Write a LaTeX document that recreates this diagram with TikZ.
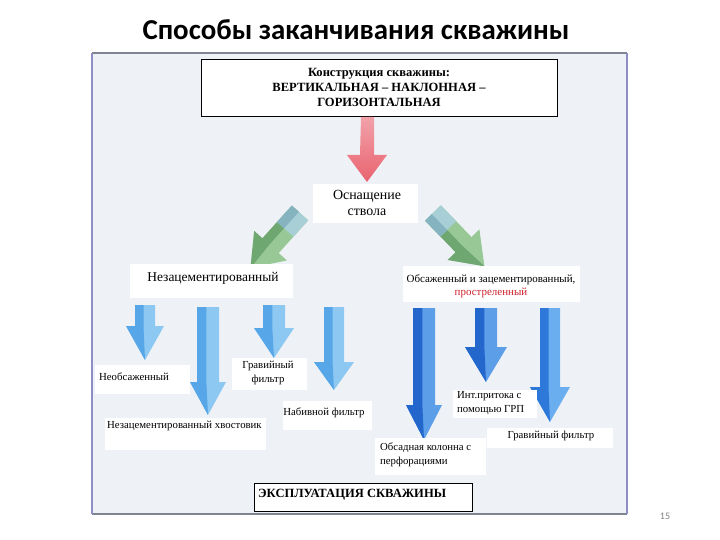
\documentclass[tikz,border=0pt]{standalone}
\usepackage{fontspec}
\setmainfont{Liberation Serif}
\newfontfamily\titlefont{Carlito}
\definecolor{panelbg}{HTML}{EEF2F7}
\definecolor{panelside}{HTML}{8E8EC4}
\definecolor{paneltop}{HTML}{7E8590}
\definecolor{redtop}{HTML}{F2A2AA}
\definecolor{redbot}{HTML}{E8636F}
\definecolor{grlight}{HTML}{98C896}
\definecolor{grdark}{HTML}{6FA771}
\definecolor{grtail}{HTML}{A9CFD6}
\definecolor{grtaildk}{HTML}{86B3C0}
\definecolor{lblight}{HTML}{8DC8F2}
\definecolor{lbdark}{HTML}{56A6E8}
\definecolor{dblight}{HTML}{5C9EE8}
\definecolor{dbdark}{HTML}{2367CC}
\definecolor{mblight}{HTML}{6AAEF0}
\definecolor{mbdark}{HTML}{2D78D8}
\definecolor{redtext}{HTML}{D0202A}
\newcommand{\VArr}[8]{%
  \fill[#7] (#1-#4,#2) -- (#1+#4,#2) -- (#1+#4,#6) -- (#1+#5,#6) -- (#1,#3) -- (#1-#5,#6) -- (#1-#4,#6) -- cycle;
  \fill[#8] (#1-#4,#2) -- (#1-0.15*#4,#2) -- (#1-0.15*#4,#6) -- (#1,#3) -- (#1-#5,#6) -- (#1-#4,#6) -- cycle;
}
\tikzset{
  lbl/.style={inner sep=0pt, font=\fontsize{10.8}{13.5}\selectfont},
  framebox/.style={draw=black, line width=0.8pt, fill=white, inner sep=0pt},
}
\begin{document}
\begin{tikzpicture}[x=1bp,y=-1bp]
\useasboundingbox (0,0) rectangle (720,540);
\fill[white] (0,0) rectangle (720,540);
% title
\node[font=\titlefont\bfseries\fontsize{29}{34}\selectfont] (title) at (356,30) {Способы заканчивания скважины};
% panel
\fill[panelbg] (92,53) rectangle (627,514);
\draw[paneltop, line width=1.5pt] (92,53) -- (627,53);
\draw[paneltop, line width=1.5pt] (92,514) -- (627,514);
\draw[panelside, line width=2pt] (92,53) -- (92,514);
\draw[panelside, line width=2pt] (627,53) -- (627,514);
% top box
\node[framebox, minimum width=356bp, minimum height=57bp, align=center,
      font=\bfseries\fontsize{12.6}{15}\selectfont] (top) at (379,87.5)
  {Конструкция скважины:\\ВЕРТИКАЛЬНАЯ – НАКЛОННАЯ –\\ГОРИЗОНТАЛЬНАЯ};
% red arrow
\shade[top color=redtop, bottom color=redbot] (361,117) -- (374,117) -- (374,155) -- (387,155) -- (367,182) -- (347,155) -- (360,155) -- cycle;
% Оснащение ствола
\fill[white] (313,184) rectangle (418,223);
\node[lbl, align=center, font=\fontsize{14}{16}\selectfont] (osn) at (367,203) {Оснащение\\ствола};
% green arrows
\begin{scope}[shift={(300,213)}, rotate=-42]
  \VArr{0}{0}{74}{11}{22}{44}{grlight}{grdark}
  \fill[grtail] (-11,0) rectangle (11,22);
  \fill[grtaildk] (-11,0) rectangle (-1.6,22);
\end{scope}
\begin{scope}[shift={(433,213)}, rotate=44]
  \VArr{0}{0}{74}{11}{22}{44}{grlight}{grdark}
  \fill[grtail] (-11,0) rectangle (11,22);
  \fill[grtaildk] (-11,0) rectangle (-1.6,22);
\end{scope}
% second level boxes
\fill[white] (130,264) rectangle (293,298);
\node[lbl, font=\fontsize{13.5}{16}\selectfont] (nezac) at (213,278) {Незацементированный};
\fill[white] (403,266) rectangle (580,302);
\node[lbl, align=center, font=\fontsize{11}{13.5}\selectfont] (obs) at (491,286)
  {Обсаженный и зацементированный,\\\textcolor{redtext}{простреленный}};
% blue arrows, left group
\VArr{145}{305}{360}{10}{19}{326}{lblight}{lbdark}
\VArr{208}{307}{415}{11}{18}{382}{lblight}{lbdark}
\VArr{274}{305}{358}{11}{20}{328}{lblight}{lbdark}
\VArr{334}{307}{390}{10}{20}{362}{lblight}{lbdark}
% blue arrows, right group
\VArr{424}{308}{440}{11}{18}{405}{dblight}{dbdark}
\VArr{486}{308}{382}{11}{21}{347}{dblight}{dbdark}
\VArr{550}{308}{422}{10}{20}{387}{mblight}{mbdark}
% labels
\fill[white] (95,365) rectangle (190,394);
\node[lbl, anchor=west] (neobs) at (99,377) {Необсаженный};
\fill[white] (105,418) rectangle (266,450);
\node[lbl, anchor=west] (hvost) at (107,426) {Незацементированный хвостовик};
\fill[white] (232,358) rectangle (307,390);
\node[lbl, align=center] (grav1) at (268,373) {Гравийный\\фильтр};
\fill[white] (283,401) rectangle (372,430);
\node[lbl] (nabiv) at (324,413) {Набивной фильтр};
\fill[white] (375,438) rectangle (486,475);
\node[lbl, align=left, anchor=west] (obsad) at (380,455) {Обсадная колонна с\\перфорациями};
\fill[white] (453,390) rectangle (537,418);
\node[lbl, align=left, anchor=west] (int) at (457,403) {Инт.притока с\\помощью ГРП};
\fill[white] (487,428) rectangle (613,448);
\node[lbl] (grav2) at (551,436) {Гравийный фильтр};
% bottom box
\node[framebox, minimum width=218bp, minimum height=28bp] (expl) at (363,497) {};
\node[font=\bfseries\fontsize{12.6}{14}\selectfont, anchor=west, inner sep=0pt] (expltext) at (258,495) {ЭКСПЛУАТАЦИЯ СКВАЖИНЫ};
% page number
\node[font=\titlefont\fontsize{10}{12}\selectfont, text=gray] (pg) at (665,516) {15};
\end{tikzpicture}
\end{document}
